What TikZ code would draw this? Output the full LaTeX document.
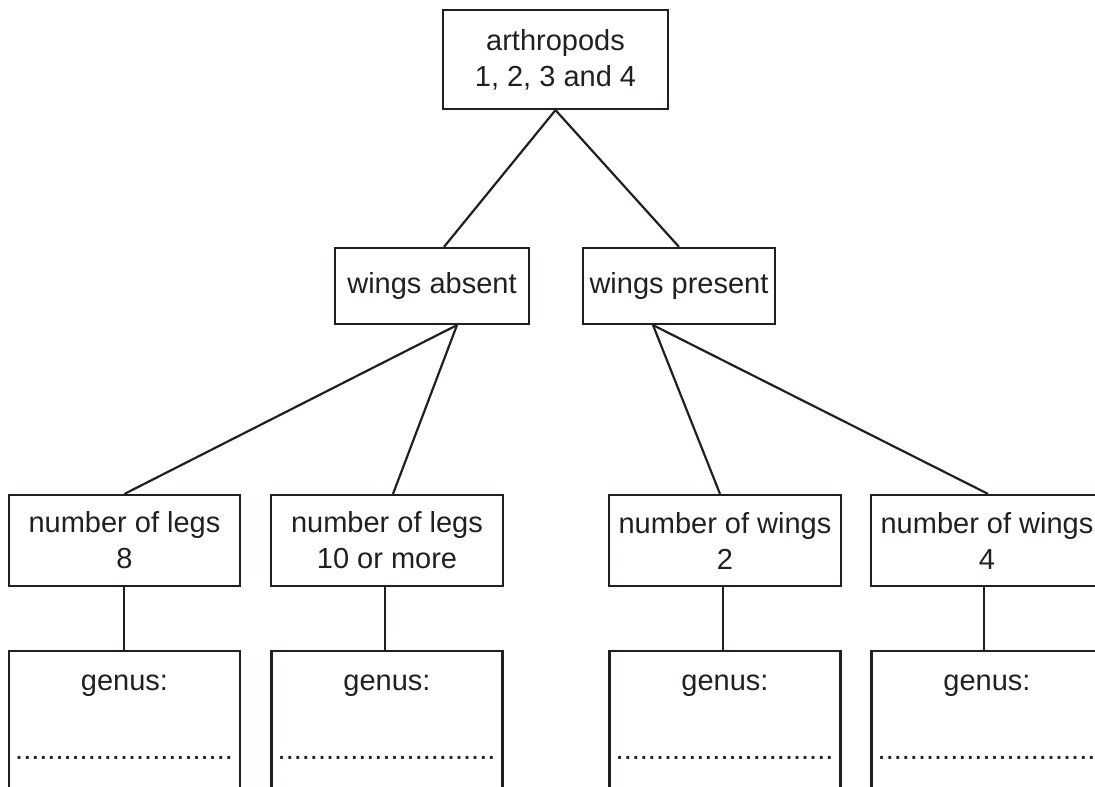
\documentclass[tikz,border=0pt]{standalone}
\usepackage{fontspec}
\setmainfont{Liberation Sans}
\definecolor{ink}{HTML}{231F20}
\begin{document}
\begin{tikzpicture}[x=1pt,y=-1pt,
  box/.style={draw=ink, line width=2.2pt, text=ink, align=center, inner sep=0pt,
              font=\fontsize{29}{36}\selectfont},
  gbox/.style={draw=ink, line width=2.2pt, anchor=north, inner sep=0pt,
               minimum width=231pt, minimum height=170pt},
  link/.style={draw=ink, line width=2.2pt},
  lbl/.style={text=ink, inner sep=0pt, anchor=base, font=\fontsize{29}{36}\selectfont}]
\useasboundingbox (0,0) rectangle (1095,787);
\clip (0,0) rectangle (1095,787);

\node[box, minimum width=225pt, minimum height=99pt] (top) at (555.5,59.5) {arthropods\\1, 2, 3 and 4};
\node[box, minimum width=194pt, minimum height=76pt] (wa) at (432,286) {wings absent};
\node[box, minimum width=192pt, minimum height=76pt] (wp) at (679,286) {wings present};

\node[box, minimum width=231pt, minimum height=91pt] (l8) at (124.5,540.5) {number of legs\\8};
\node[box, minimum width=232pt, minimum height=91pt] (l10) at (387,540.5) {number of legs\\10 or more};
\node[box, minimum width=232pt, minimum height=91pt] (w2) at (725,540.5) {number of wings\\2};
\node[box, minimum width=232pt, minimum height=91pt] (w4) at (987,540.5) {number of wings\\4};

\node[gbox] (g1) at (124.5,650) {};
\node[gbox] (g2) at (387,650) {};
\node[gbox] (g3) at (725,650) {};
\node[gbox] (g4) at (987,650) {};

\node[lbl] (g1t) at (124.5,690) {genus:};
\node[lbl] (g2t) at (387,690) {genus:};
\node[lbl] (g3t) at (725,690) {genus:};
\node[lbl] (g4t) at (987,690) {genus:};
\node[lbl] (g1d) at (124,759) {...........................};
\node[lbl] (g2d) at (386.5,759) {...........................};
\node[lbl] (g3d) at (724.5,759) {...........................};
\node[lbl] (g4d) at (986.5,759) {...........................};

\draw[link] (top.south) -- ([xshift=12pt]wa.north);
\draw[link] (top.south) -- (wp.north);
\draw[link] ([xshift=25pt]wa.south) -- (l8.north);
\draw[link] ([xshift=25pt]wa.south) -- ([xshift=6pt]l10.north);
\draw[link] ([xshift=-26pt]wp.south) -- ([xshift=-5pt]w2.north);
\draw[link] ([xshift=-26pt]wp.south) -- ([xshift=1pt]w4.north);

\draw[link] ([xshift=-0.5pt]l8.south) -- ([xshift=-0.5pt]g1.north);
\draw[link] ([xshift=-2pt]l10.south) -- ([xshift=-2pt]g2.north);
\draw[link] ([xshift=-2pt]w2.south) -- ([xshift=-2pt]g3.north);
\draw[link] ([xshift=-3pt]w4.south) -- ([xshift=-3pt]g4.north);
\end{tikzpicture}
\end{document}
